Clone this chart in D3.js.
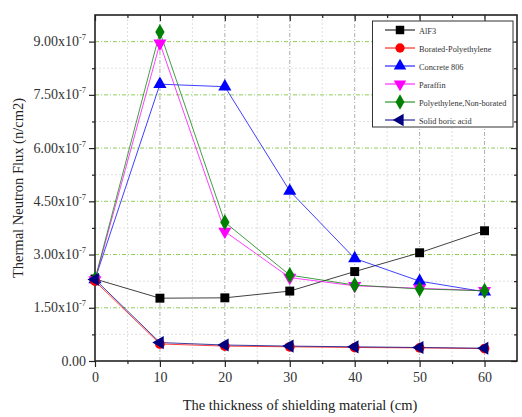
<!DOCTYPE html>
<html><head><meta charset="utf-8">
<script src="https://cdn.jsdelivr.net/npm/d3@7"></script>
<style>body{margin:0;background:#fff}svg{display:block}svg text{font-family:"Liberation Serif",serif !important}</style>
</head><body><svg id="c" width="522" height="417"></svg>
<script>
const thickness = [0, 10, 20, 30, 40, 50, 60];
const alf3 = [2.31, 1.77, 1.78, 1.97, 2.52, 3.05, 3.67];
const boratedPE = [2.25, 0.48, 0.42, 0.40, 0.38, 0.37, 0.35];
const concrete806 = [2.30, 7.80, 7.73, 4.79, 2.89, 2.25, 1.95];
const paraffin = [2.28, 8.95, 3.65, 2.35, 2.12, 2.05, 1.98];
const polyNonBorated = [2.30, 9.27, 3.91, 2.42, 2.14, 2.03, 1.98];
const solidBoric = [2.30, 0.52, 0.45, 0.42, 0.40, 0.38, 0.36];
const seriesNames = ["AlF3","Borated-Polyethylene","Concrete 806","Paraffin","Polyethylene,Non-borated","Solid boric acid"];
const yTickValues = [0, 1.5, 3.0, 4.5, 6.0, 7.5, 9.0];
const yTickMantissa = ["0.00","1.50","3.00","4.50","6.00","7.50","9.00"];
const xTickValues = [0, 10, 20, 30, 40, 50, 60];

const series = [
  {name: seriesNames[0], values: alf3, color: "#000000", sym: d3.symbolSquare, size: 80, rot: 0},
  {name: seriesNames[1], values: boratedPE, color: "#ff0000", sym: d3.symbolCircle, size: 75, rot: 0},
  {name: seriesNames[2], values: concrete806, color: "#0000ff", sym: d3.symbolTriangle, size: 75, rot: 0},
  {name: seriesNames[3], values: paraffin, color: "#ff00ff", sym: d3.symbolTriangle, size: 75, rot: 180},
  {name: seriesNames[4], values: polyNonBorated, color: "#008000", sym: d3.symbolDiamond, size: 75, rot: 0},
  {name: seriesNames[5], values: solidBoric, color: "#000080", sym: d3.symbolTriangle, size: 75, rot: -90}
];

const FONT = "Liberation Serif, serif";
const svg = d3.select("#c");
const L = 95, R = 517, T = 15, B = 361;
const x = d3.scaleLinear().domain([0, 65]).range([L, R]);
const y = d3.scaleLinear().domain([0, 9.75]).range([B, T]);

const g = svg.append("g");
// minor grid
const xMinor = d3.range(5, 65, 10);
const yMinor = d3.range(0.75, 9.75, 1.5);
g.selectAll(".vgm").data(xMinor).join("line")
  .attr("x1", d => x(d)).attr("x2", d => x(d)).attr("y1", T).attr("y2", B)
  .attr("stroke", "#d8d8d8").attr("stroke-width", 0.8).attr("stroke-dasharray", "2,2");
g.selectAll(".hgm").data(yMinor).join("line")
  .attr("x1", L).attr("x2", R).attr("y1", d => y(d)).attr("y2", d => y(d))
  .attr("stroke", "#d8d8d8").attr("stroke-width", 0.8).attr("stroke-dasharray", "2,2");
// major grid
g.selectAll(".vg").data(xTickValues.slice(1)).join("line")
  .attr("x1", d => x(d)).attr("x2", d => x(d)).attr("y1", T).attr("y2", B)
  .attr("stroke", "#999").attr("stroke-width", 0.8).attr("stroke-dasharray", "4,2,1,2");
g.selectAll(".hg").data(yTickValues.slice(1)).join("line")
  .attr("x1", L).attr("x2", R).attr("y1", d => y(d)).attr("y2", d => y(d))
  .attr("stroke", "#8fce5a").attr("stroke-width", 1).attr("stroke-dasharray", "4,2,1,2");

// axes
const xAxis = d3.axisBottom(x).tickValues(xTickValues).tickSize(6).tickFormat(d3.format("d"));
const xAxisMinor = d3.axisBottom(x).tickValues(xMinor).tickSize(3).tickFormat("");
const yAxis = d3.axisLeft(y).tickValues(yTickValues).tickSize(6).tickFormat("");
const yAxisMinor = d3.axisLeft(y).tickValues(yMinor).tickSize(3).tickFormat("");
const xTop = d3.axisBottom(x).tickValues(xTickValues).tickSize(6).tickFormat("");
const xTopMinor = d3.axisBottom(x).tickValues(xMinor).tickSize(3).tickFormat("");
const yRight = d3.axisLeft(y).tickValues(yTickValues).tickSize(6).tickFormat("");
const yRightMinor = d3.axisLeft(y).tickValues(yMinor).tickSize(3).tickFormat("");

function styleAxis(sel){
  sel.attr("font-family", FONT);
  sel.select(".domain").remove();
  sel.selectAll(".tick line").attr("stroke", "#222").attr("stroke-width", 1.2);
  sel.selectAll(".tick text").attr("font-size", 14).attr("fill", "#333");
}
svg.append("g").attr("transform", `translate(0,${B})`).call(xAxis).call(styleAxis)
  .selectAll(".tick text").attr("dy", "0.9em").attr("y", 8);
svg.append("g").attr("transform", `translate(0,${B})`).call(xAxisMinor).call(styleAxis);
svg.append("g").attr("transform", `translate(${L},0)`).call(yAxis).call(styleAxis);
svg.append("g").attr("transform", `translate(${L},0)`).call(yAxisMinor).call(styleAxis);
svg.append("g").attr("transform", `translate(0,${T})`).call(xTop).call(styleAxis);
svg.append("g").attr("transform", `translate(0,${T})`).call(xTopMinor).call(styleAxis);
svg.append("g").attr("transform", `translate(${R},0)`).call(yRight).call(styleAxis)
  .selectAll(".tick line").attr("x2", -6);
svg.append("g").attr("transform", `translate(${R},0)`).call(yRightMinor).call(styleAxis)
  .selectAll(".tick line").attr("x2", -3);

// y tick labels with superscript
const yl = svg.append("g").attr("font-family", FONT);
yTickValues.forEach((v, i) => {
  const t = yl.append("text").attr("x", 86).attr("y", y(v) + 4.5)
    .attr("text-anchor", "end").attr("font-size", 14).attr("fill", "#333");
  if (v === 0) { t.text(yTickMantissa[i]); }
  else {
    t.append("tspan").text(yTickMantissa[i] + "x10");
    t.append("tspan").attr("font-size", 8.5).attr("dy", -6).text("-7");
  }
});

// frame
svg.append("rect").attr("x", L).attr("y", T).attr("width", R - L).attr("height", B - T)
  .attr("fill", "none").attr("stroke", "#222").attr("stroke-width", 1.6);

// lines
const line = d3.line().x((d, i) => x(thickness[i])).y(d => y(d));
const draw = [series[0], series[2], series[3], series[4], series[1], series[5]];
draw.forEach(s => {
  svg.append("path").datum(s.values).attr("d", line).attr("fill", "none")
    .attr("stroke", s.color).attr("stroke-width", 1).attr("opacity", 0.75);
});
draw.forEach(s => {
  const sym = d3.symbol().type(s.sym).size(s.size);
  svg.append("g").selectAll("path").data(s.values).join("path")
    .attr("d", sym)
    .attr("transform", (d, i) => `translate(${x(thickness[i])},${y(d)}) rotate(${s.rot})`)
    .attr("fill", s.color);
});

// legend
const lg = svg.append("g").attr("font-family", FONT);
lg.append("rect").attr("x", 372.5).attr("y", 21).attr("width", 140.5).attr("height", 106)
  .attr("fill", "#fff").attr("stroke", "#333").attr("stroke-width", 1);
series.forEach((s, i) => {
  const yy = 30 + i * 18;
  lg.append("line").attr("x1", 385).attr("x2", 415).attr("y1", yy).attr("y2", yy)
    .attr("stroke", s.color).attr("stroke-width", 1);
  lg.append("path").attr("d", d3.symbol().type(s.sym).size(s.size * 0.9)())
    .attr("transform", `translate(400,${yy}) rotate(${s.rot})`).attr("fill", s.color);
  lg.append("text").attr("x", 419).attr("y", yy + 3.5).attr("font-size", 8.3).attr("fill", "#333")
    .text(s.name);
});

// axis titles
svg.append("text").attr("x", 300).attr("y", 410).attr("text-anchor", "middle").attr("font-family", FONT)
  .attr("font-size", 14.5).attr("fill", "#222").text("The thickness of shielding material (cm)");
svg.append("text").attr("transform", "translate(23,188) rotate(-90)").attr("text-anchor", "middle").attr("font-family", FONT)
  .attr("font-size", 14.5).attr("fill", "#222").text("Thermal Neutron Flux (n/cm2)");
</script></body></html>
